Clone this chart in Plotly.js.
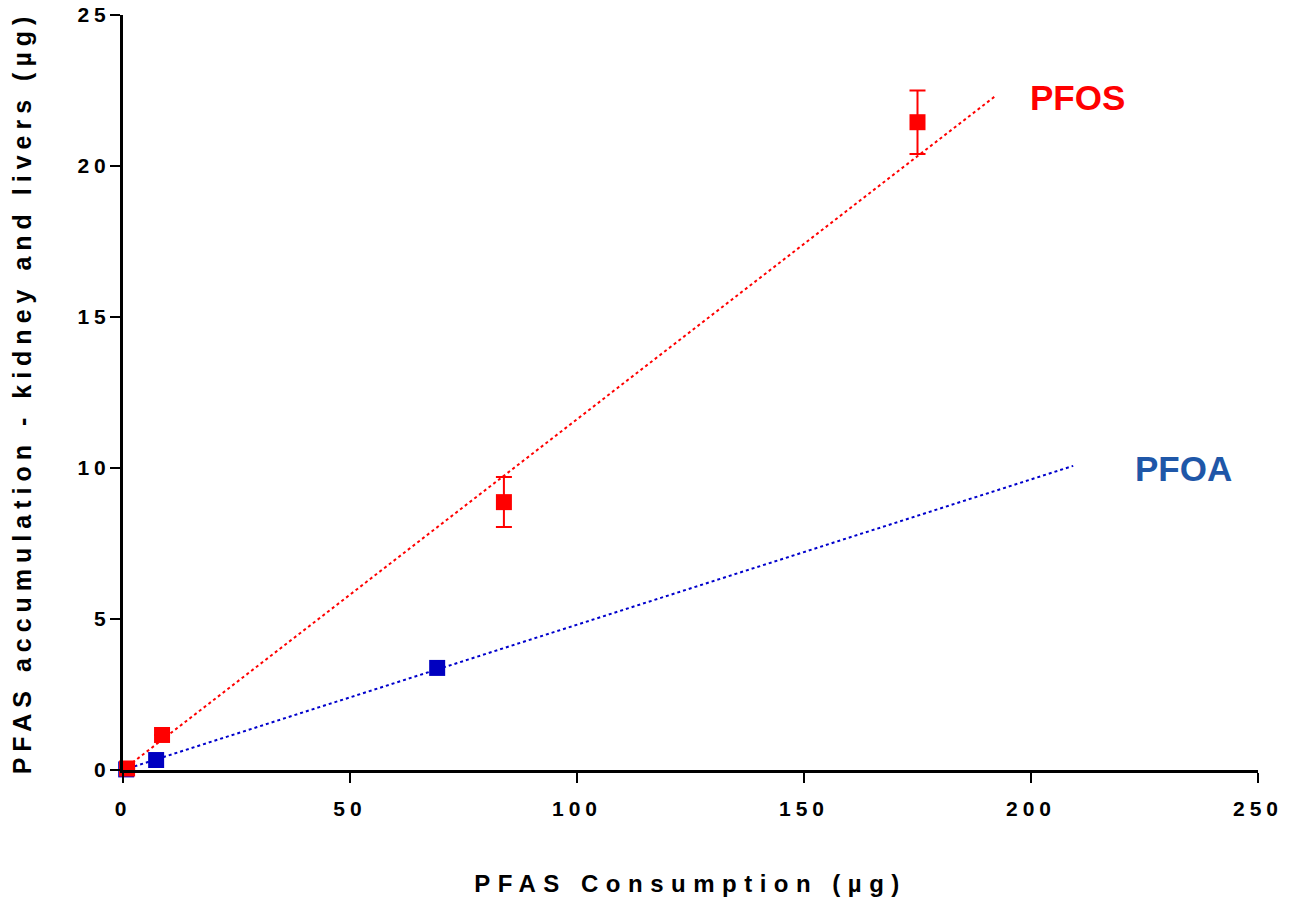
<!DOCTYPE html>
<html>
<head>
<meta charset="utf-8">
<script src="https://cdn.plot.ly/plotly-3.0.1.min.js"></script>
<style>
  html, body { margin: 0; padding: 0; background: #fff; }
  #chart { width: 1309px; height: 902px; }
  .xtick text, .ytick text { letter-spacing: 5px; }
  .xtitle { letter-spacing: 7.5px; }
  .ytitle { letter-spacing: 6px; }
</style>
</head>
<body>
<div id="chart"></div>
<script>
// PFOS data (mean ± error)
const pfosX = [0.9, 8.6, 83.9, 175.0];
const pfosY = [0.05, 1.16, 8.87, 21.45];
const pfosErrPlus = [0, 0, 0.83, 1.05];
const pfosErrMinus = [0, 0, 0.82, 1.05];

// PFOA data
const pfoaX = [0.7, 7.3, 69.2];
const pfoaY = [0.02, 0.33, 3.38];

// Linear fit lines (endpoints)
const pfosFitX = [0, 192];
const pfosFitY = [0, 22.3];
const pfoaFitX = [0, 209.3];
const pfoaFitY = [0, 10.07];

const xTicks = [0, 50, 100, 150, 200, 250];
const yTicks = [0, 5, 10, 15, 20, 25];

const FONT = "Arial, 'Liberation Sans', sans-serif";
const RED = "#ff0000";
const BLUE = "#0000c0";

const traces = [
  { x: pfosFitX, y: pfosFitY, mode: "lines", line: { color: RED, width: 2, dash: "dot" }, hoverinfo: "skip", cliponaxis: false },
  { x: pfoaFitX, y: pfoaFitY, mode: "lines", line: { color: "#0000cc", width: 2, dash: "dot" }, hoverinfo: "skip", cliponaxis: false },
  { x: pfoaX, y: pfoaY, mode: "markers", marker: { symbol: "square", size: 16, color: BLUE }, cliponaxis: false },
  { x: pfosX, y: pfosY, mode: "markers", marker: { symbol: "square", size: 16, color: RED },
    error_y: { type: "data", symmetric: false, array: pfosErrPlus, arrayminus: pfosErrMinus, color: RED, thickness: 2, width: 8 },
    cliponaxis: false }
];

const layout = {
  width: 1309, height: 902,
  margin: { l: 123, r: 51, t: 15, b: 132 },
  paper_bgcolor: "#fff", plot_bgcolor: "#fff",
  showlegend: false,
  font: { family: FONT, color: "#000" },
  xaxis: {
    range: [0, 250], tickvals: xTicks, ticktext: xTicks.map(String),
    showgrid: false, zeroline: false, showline: true, linecolor: "#000", linewidth: 3,
    ticks: "outside", ticklen: 10, tickwidth: 2, tickcolor: "#000",
    tickfont: { family: FONT, size: 21, weight: "bold", color: "#000" },
    ticklabelstandoff: 8,
    title: { text: "PFAS Consumption (µg)", font: { family: FONT, size: 24, weight: "bold", color: "#000" }, standoff: 56 }
  },
  yaxis: {
    range: [0, 25], tickvals: yTicks, ticktext: yTicks.map(String),
    showgrid: false, zeroline: false, showline: true, linecolor: "#000", linewidth: 3,
    ticks: "outside", ticklen: 10, tickwidth: 2, tickcolor: "#000",
    tickfont: { family: FONT, size: 21, weight: "bold", color: "#000" },
    ticklabelstandoff: -5,
    title: { text: "PFAS accumulation - kidney and livers (µg)", font: { family: FONT, size: 25, weight: "bold", color: "#000" }, standoff: 39 }
  },
  annotations: [
    { x: 210.2, y: 22.28, xref: "x", yref: "y", text: "PFOS", showarrow: false,
      font: { family: FONT, size: 35, weight: "bold", color: RED } },
    { x: 233.5, y: 9.97, xref: "x", yref: "y", text: "PFOA", showarrow: false,
      font: { family: FONT, size: 35, weight: "bold", color: "#1f57a8" } }
  ]
};

Plotly.newPlot("chart", traces, layout, { displayModeBar: false, staticPlot: true });
</script>
</body>
</html>
